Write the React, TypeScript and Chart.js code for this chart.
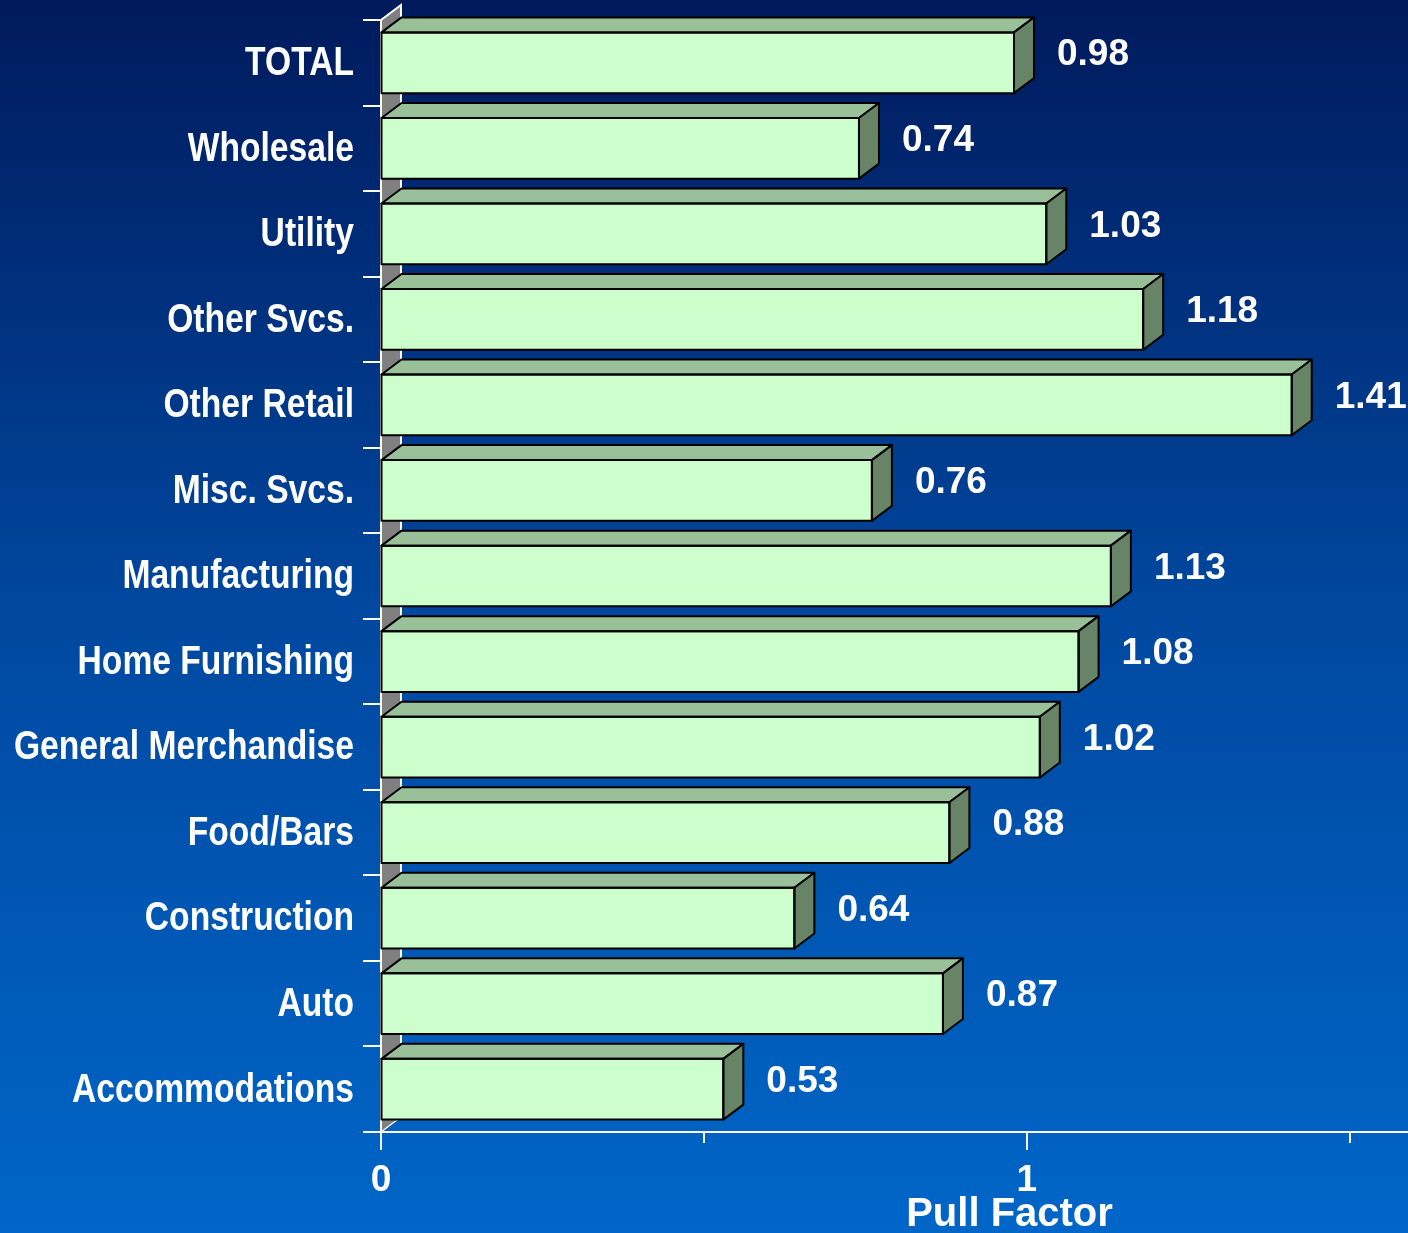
import React, { useEffect, useRef } from "react";
import { Chart, registerables } from "chart.js";

Chart.register(...registerables);

const categories: string[] = [
  "TOTAL",
  "Wholesale",
  "Utility",
  "Other Svcs.",
  "Other Retail",
  "Misc. Svcs.",
  "Manufacturing",
  "Home Furnishing",
  "General Merchandise",
  "Food/Bars",
  "Construction",
  "Auto",
  "Accommodations",
];
const pullFactor: number[] = [0.98, 0.74, 1.03, 1.18, 1.41, 0.76, 1.13, 1.08, 1.02, 0.88, 0.64, 0.87, 0.53];
const xTickValues: number[] = [0, 0.5, 1, 1.5];
const xTickLabels: Record<string, string> = { "0": "0", "1": "1" };
const axisTitle = "Pull Factor";

const DX = 20;
const DY = 15;
const FRONT = "#ccffcc";
const TOP = "#99c099";
const SIDE = "#678467";
const NARROW = 0.82;

const threeD = {
  id: "threeD",
  beforeDraw(chart: any) {
    const { ctx, width, height } = chart;
    const g = ctx.createLinearGradient(0, 0, 0, height);
    g.addColorStop(0, "#001a5c");
    g.addColorStop(0.5, "#0048a0");
    g.addColorStop(1, "#0066c8");
    ctx.save();
    ctx.fillStyle = g;
    ctx.fillRect(0, 0, width, height);
    ctx.restore();
  },
  beforeDatasetsDraw(chart: any) {
    const { ctx, chartArea } = chart;
    const l = chartArea.left, t = chartArea.top, b = chartArea.bottom;
    ctx.save();
    ctx.beginPath();
    ctx.moveTo(l + 1, t);
    ctx.lineTo(l + DX, t - DY);
    ctx.lineTo(l + DX, b - DY);
    ctx.lineTo(l + 1, b);
    ctx.closePath();
    ctx.fillStyle = "#808080";
    ctx.fill();
    ctx.strokeStyle = "#ffffff";
    ctx.lineWidth = 2;
    ctx.beginPath();
    ctx.moveTo(l, t);
    ctx.lineTo(l + DX, t - DY);
    ctx.lineTo(l + DX, b - DY);
    ctx.stroke();
    ctx.lineWidth = 1.2;
    ctx.beginPath();
    ctx.moveTo(l, b);
    ctx.lineTo(l + DX, b - DY);
    ctx.stroke();
    ctx.restore();
  },
  afterDatasetsDraw(chart: any) {
    const { ctx } = chart;
    const meta = chart.getDatasetMeta(0);
    ctx.save();
    ctx.lineWidth = 2;
    ctx.strokeStyle = "#000000";
    ctx.lineJoin = "round";
    meta.data.forEach((bar: any, i: number) => {
      const x0 = bar.base;
      const x1 = bar.x;
      const y0 = bar.y - bar.height / 2;
      const y1 = bar.y + bar.height / 2;
      ctx.beginPath();
      ctx.moveTo(x0, y0);
      ctx.lineTo(x0 + DX, y0 - DY);
      ctx.lineTo(x1 + DX, y0 - DY);
      ctx.lineTo(x1, y0);
      ctx.closePath();
      ctx.fillStyle = TOP;
      ctx.fill();
      ctx.stroke();
      ctx.beginPath();
      ctx.moveTo(x1, y0);
      ctx.lineTo(x1 + DX, y0 - DY);
      ctx.lineTo(x1 + DX, y1 - DY);
      ctx.lineTo(x1, y1);
      ctx.closePath();
      ctx.fillStyle = SIDE;
      ctx.fill();
      ctx.stroke();
      ctx.strokeRect(x0, y0, x1 - x0, y1 - y0);
      ctx.fillStyle = "#ffffff";
      ctx.font = "bold 37px 'Liberation Sans', Arial, sans-serif";
      ctx.textAlign = "left";
      ctx.textBaseline = "middle";
      ctx.fillText(pullFactor[i].toFixed(2), x1 + DX + 23, bar.y - DY / 2);
    });
    ctx.restore();
  },
  afterDraw(chart: any) {
    const { ctx, chartArea } = chart;
    const xs = chart.scales.x;
    const ys = chart.scales.y;
    ctx.save();
    ctx.strokeStyle = "#ffffff";
    ctx.lineWidth = 2;
    xTickValues.forEach((v) => {
      const px = Math.round(xs.getPixelForValue(v));
      const len = Number.isInteger(v) ? 18 : 11;
      ctx.beginPath();
      ctx.moveTo(px, chartArea.bottom);
      ctx.lineTo(px, chartArea.bottom + len);
      ctx.stroke();
    });
    // category labels (narrow bold)
    ctx.fillStyle = "#ffffff";
    ctx.font = "bold 41px 'Liberation Sans', Arial, sans-serif";
    ctx.textAlign = "right";
    ctx.textBaseline = "middle";
    categories.forEach((c, i) => {
      const py = ys.getPixelForValue(i);
      ctx.save();
      ctx.translate(chartArea.left - 27, py + 1);
      ctx.scale(NARROW, 1);
      ctx.fillText(c, 0, 0);
      ctx.restore();
    });
    ctx.font = "bold 40px 'Liberation Sans', Arial, sans-serif";
    ctx.textAlign = "center";
    ctx.textBaseline = "alphabetic";
    ctx.fillText(axisTitle, chartArea.left + (chartArea.right - chartArea.left) * 0.612, 1226);
    ctx.restore();
  },
};

export default function App() {
  const ref = useRef<HTMLCanvasElement | null>(null);
  useEffect(() => {
    document.body.style.margin = "0";
    document.body.style.overflow = "hidden";
    const canvas = ref.current!;
    const chart = new Chart(canvas, {
      type: "bar",
      data: {
        labels: categories,
        datasets: [
          {
            data: pullFactor,
            backgroundColor: FRONT,
            borderColor: "#000000",
            borderWidth: 0,
            barPercentage: 0.71,
            categoryPercentage: 1,
          },
        ],
      },
      options: {
        indexAxis: "y",
        animation: false,
        responsive: false,
        maintainAspectRatio: false,
        events: [],
        layout: { padding: { top: 20, right: 0, left: 0, bottom: 0 } },
        plugins: { legend: { display: false }, tooltip: { enabled: false } },
        scales: {
          x: {
            type: "linear",
            min: 0,
            max: 1.59,
            position: "bottom",
            afterFit: (s: any) => {
              s.height = 101;
            },
            afterBuildTicks: (s: any) => {
              s.ticks = xTickValues.map((v) => ({ value: v }));
            },
            grid: { drawOnChartArea: false, drawTicks: false },
            border: { display: true, color: "#ffffff", width: 2 },
            ticks: {
              color: "#ffffff",
              padding: 27,
              maxRotation: 0,
              autoSkip: false,
              font: { family: "'Liberation Sans', Arial, sans-serif", size: 37, weight: "bold" },
              callback: (v: any) => xTickLabels[String(v)] ?? "",
            },
          },
          y: {
            type: "category",
            position: "left",
            afterFit: (s: any) => {
              s.width = 381;
            },
            grid: {
              drawOnChartArea: false,
              drawTicks: true,
              tickLength: 18,
              color: "#ffffff",
              lineWidth: 2,
              offset: true,
            },
            border: { display: true, color: "#ffffff", width: 2 },
            ticks: { display: false },
          },
        },
      },
      plugins: [threeD],
    });
    return () => chart.destroy();
  }, []);
  return <canvas ref={ref} width={1408} height={1233} style={{ display: "block", width: 1408, height: 1233 }} />;
}
